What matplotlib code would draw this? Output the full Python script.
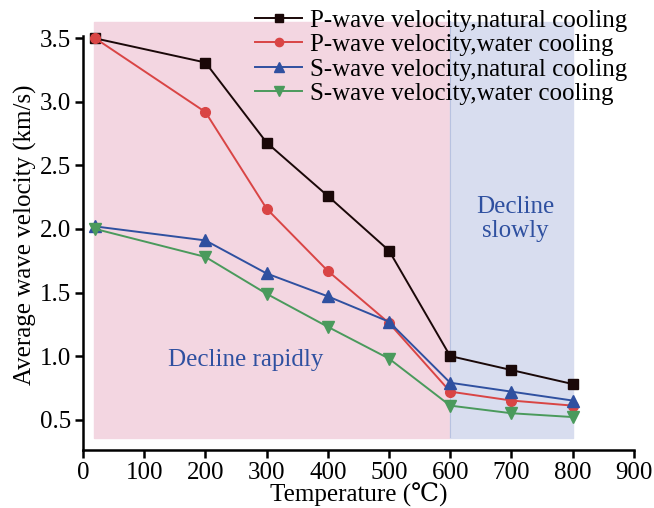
import matplotlib.pyplot as plt

plt.rcParams['font.family'] = ['Liberation Serif', 'DejaVu Serif']

temps = [20, 200, 300, 400, 500, 600, 700, 800]
p_natural = [3.50, 3.31, 2.68, 2.26, 1.83, 1.00, 0.89, 0.78]
p_water = [3.50, 2.92, 2.16, 1.67, 1.26, 0.72, 0.65, 0.61]
s_natural = [2.02, 1.91, 1.65, 1.47, 1.27, 0.79, 0.72, 0.65]
s_water = [2.00, 1.78, 1.49, 1.23, 0.98, 0.61, 0.55, 0.52]

fig = plt.figure(figsize=(6.54, 5.08), dpi=100)
ax = fig.add_axes([0.127, 0.114, 0.842, 0.848])

# background zones
ax.fill_between([18, 600], 0.353, 3.63, color='#f3d6e1', zorder=0)
ax.fill_between([600, 800], 0.353, 3.63, color='#d8ddef', zorder=0)
ax.axvline(600, ymin=0.03, ymax=0.995, color='#b8c2e0', lw=0.8, zorder=0)

ax.plot(temps, p_natural, '-s', color='#1a0808', ms=7, lw=1.4, label='P-wave velocity,natural cooling')
ax.plot(temps, p_water, '-o', color='#d94545', ms=7, lw=1.4, label='P-wave velocity,water cooling')
ax.plot(temps, s_natural, '-^', color='#2f50a0', ms=8, lw=1.4, label='S-wave velocity,natural cooling')
ax.plot(temps, s_water, '-v', color='#4a9a5c', ms=8, lw=1.4, label='S-wave velocity,water cooling')

ax.text(265, 0.97, 'Decline rapidly', color='#2f50a0', fontsize=18, ha='center', va='center')
ax.text(706, 2.08, 'Decline\nslowly', color='#2f50a0', fontsize=18, ha='center', va='center',
        linespacing=1.1)

ax.set_xlim(0, 900)
ax.set_ylim(0.26, 3.65)
ax.set_xticks(range(0, 1000, 100))
ax.set_yticks([0.5, 1.0, 1.5, 2.0, 2.5, 3.0, 3.5])
ax.set_yticklabels(['0.5', '1.0', '1.5', '2.0', '2.5', '3.0', '3.5'])
ax.spines['top'].set_visible(False)
ax.spines['right'].set_visible(False)
ax.spines['left'].set_bounds(0.26, 3.52)
for s in ['left', 'bottom']:
    ax.spines[s].set_linewidth(1.8)
ax.tick_params(direction='out', length=6, width=1.8, labelsize=18, pad=2.5)
ax.set_xlabel('Temperature (℃)', fontsize=18, labelpad=-1)
ax.set_ylabel('Average wave velocity (km/s)', fontsize=18, labelpad=2)

ax.legend(loc='upper left', bbox_to_anchor=(0.294, 1.047), frameon=False, fontsize=18,
          handlelength=1.9, handletextpad=0.3, labelspacing=0.08, borderaxespad=0,
          markerscale=0.85)

fig.savefig('out.png', dpi=100)
